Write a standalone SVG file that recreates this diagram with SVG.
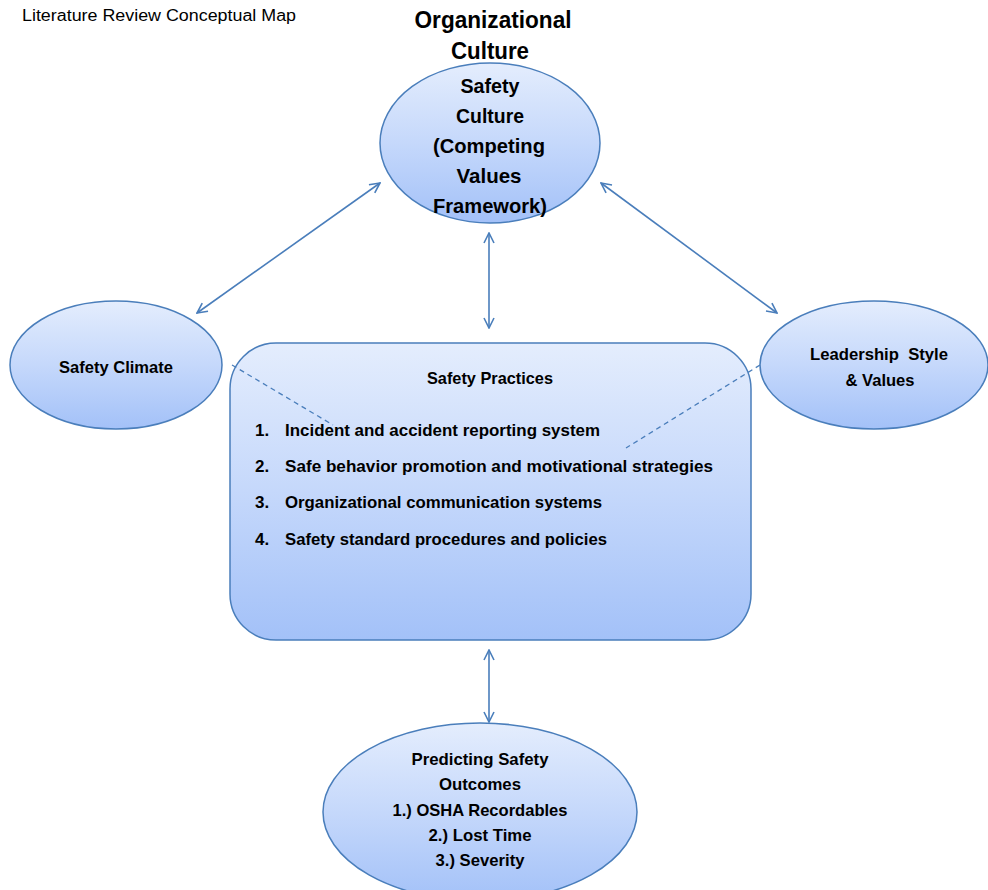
<svg xmlns="http://www.w3.org/2000/svg" width="988" height="890" viewBox="0 0 988 890">
<defs>
<linearGradient id="g" x1="0" y1="0" x2="0" y2="1">
<stop offset="0" stop-color="#e4edfd"/>
<stop offset="0.5" stop-color="#c5d8fb"/>
<stop offset="1" stop-color="#a3c1f8"/>
</linearGradient>
<marker id="ah" viewBox="0 0 12 12" refX="11" refY="6" markerWidth="12" markerHeight="12" markerUnits="userSpaceOnUse" orient="auto-start-reverse">
<path d="M1,1 L11,6 L1,11" fill="none" stroke="#4a7ebb" stroke-width="1.6"/>
</marker>
<style>
.shape{fill:url(#g);stroke:#4a7ebb;stroke-width:1.5}
.t{font-family:"Liberation Sans",Arial,sans-serif;font-weight:bold;fill:#000;font-size:17px}
.c{text-anchor:middle}
.conn{stroke:#4a7ebb;stroke-width:1.6;fill:none}
.dash{stroke:#4a7ebb;stroke-width:1.3;stroke-dasharray:5,4;fill:none}
</style>
</defs>
<rect width="988" height="890" fill="#fff"/>
<text x="22" y="21" font-family="Liberation Sans,Arial,sans-serif" font-size="16" textLength="274" lengthAdjust="spacingAndGlyphs">Literature Review Conceptual Map</text>
<g id="org-culture-title">
<text class="t c" x="493" y="28" style="font-size:24px" textLength="157" lengthAdjust="spacingAndGlyphs">Organizational</text>
<text class="t c" x="490" y="59" style="font-size:24px" textLength="78" lengthAdjust="spacingAndGlyphs">Culture</text>
</g>
<g id="node-safety-culture">
<ellipse class="shape" cx="490" cy="143" rx="110" ry="80"/>
<text class="t c" x="490" y="93" style="font-size:21px" textLength="59" lengthAdjust="spacingAndGlyphs">Safety</text>
<text class="t c" x="490" y="123" style="font-size:21px" textLength="68" lengthAdjust="spacingAndGlyphs">Culture</text>
<text class="t c" x="489" y="153" style="font-size:21px" textLength="112" lengthAdjust="spacingAndGlyphs">(Competing</text>
<text class="t c" x="489" y="183" style="font-size:21px" textLength="65" lengthAdjust="spacingAndGlyphs">Values</text>
<text class="t c" x="490" y="213" style="font-size:21px" textLength="114" lengthAdjust="spacingAndGlyphs">Framework)</text>
</g>
<g id="node-safety-climate">
<ellipse class="shape" cx="116" cy="365" rx="106" ry="64"/>
<text class="t c" x="116" y="373" textLength="114" lengthAdjust="spacingAndGlyphs">Safety Climate</text>
</g>
<g id="node-leadership">
<ellipse class="shape" cx="874" cy="365" rx="114" ry="64"/>
<text class="t" x="810" y="360" textLength="138" lengthAdjust="spacingAndGlyphs" xml:space="preserve">Leadership  Style</text>
<text class="t c" x="880" y="386" textLength="69" lengthAdjust="spacingAndGlyphs">&amp; Values</text>
</g>
<g id="node-safety-practices">
<rect class="shape" x="230" y="343" width="521" height="297" rx="46" ry="46"/>
<text class="t c" x="490" y="384" textLength="126" lengthAdjust="spacingAndGlyphs">Safety Practices</text>
<text class="t" x="255" y="436">1.</text>
<text class="t" x="285" y="436" textLength="315" lengthAdjust="spacingAndGlyphs">Incident and accident reporting system</text>
<text class="t" x="255" y="472">2.</text>
<text class="t" x="285" y="472" textLength="428" lengthAdjust="spacingAndGlyphs">Safe behavior promotion and motivational strategies</text>
<text class="t" x="255" y="508">3.</text>
<text class="t" x="285" y="508" textLength="317" lengthAdjust="spacingAndGlyphs">Organizational communication systems</text>
<text class="t" x="255" y="545">4.</text>
<text class="t" x="285" y="545" textLength="322" lengthAdjust="spacingAndGlyphs">Safety standard procedures and policies</text>
</g>
<g id="node-outcomes">
<ellipse class="shape" cx="480" cy="812" rx="157" ry="89"/>
<text class="t c" x="480" y="765" textLength="137" lengthAdjust="spacingAndGlyphs">Predicting Safety</text>
<text class="t c" x="480" y="790" textLength="82" lengthAdjust="spacingAndGlyphs">Outcomes</text>
<text class="t c" x="480" y="816" textLength="175" lengthAdjust="spacingAndGlyphs">1.) OSHA Recordables</text>
<text class="t c" x="480" y="841" textLength="103" lengthAdjust="spacingAndGlyphs">2.) Lost Time</text>
<text class="t c" x="480" y="866" textLength="89" lengthAdjust="spacingAndGlyphs">3.) Severity</text>
</g>
<g id="connectors">
<line class="conn" x1="380" y1="183" x2="197" y2="313" marker-start="url(#ah)" marker-end="url(#ah)"/>
<line class="conn" x1="601" y1="183" x2="777" y2="313" marker-start="url(#ah)" marker-end="url(#ah)"/>
<line class="conn" x1="489" y1="233" x2="489" y2="328" marker-start="url(#ah)" marker-end="url(#ah)"/>
<line class="conn" x1="489" y1="650" x2="489" y2="722" marker-start="url(#ah)" marker-end="url(#ah)"/>
<line class="dash" x1="232" y1="365" x2="333" y2="425"/>
<line class="dash" x1="760" y1="365" x2="626" y2="448"/>
</g>
</svg>
